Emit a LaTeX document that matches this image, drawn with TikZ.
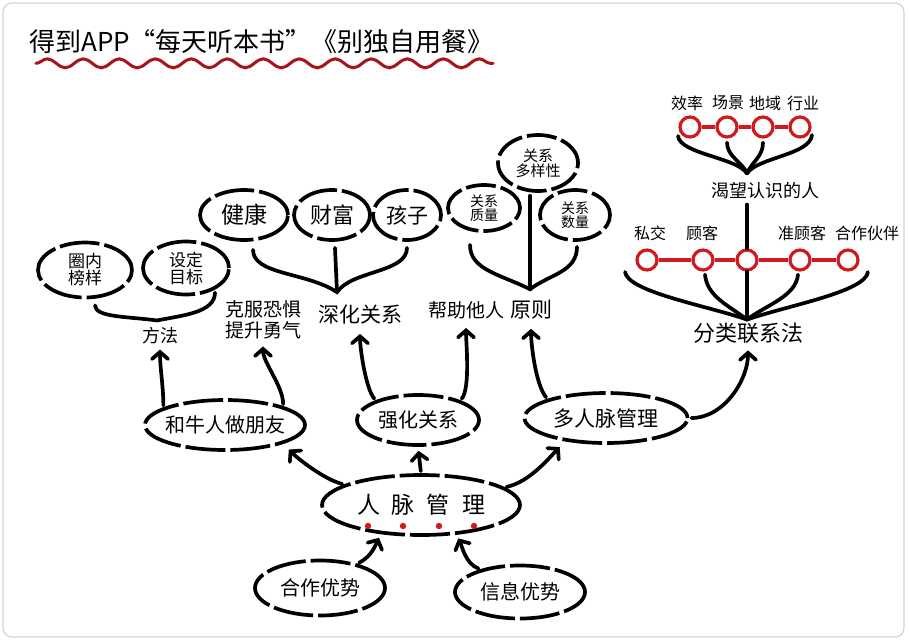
\documentclass[tikz,border=0pt]{standalone}
\usepackage{fontspec}
\setmainfont{Noto Sans CJK SC}
\usetikzlibrary{arrows.meta,decorations.pathmorphing,calc,shapes.geometric}
\definecolor{inkred}{HTML}{D01A1E}
\definecolor{wavered}{HTML}{A8141A}
\definecolor{framegray}{HTML}{D4D4D4}
\newcommand{\fs}[1]{\fontsize{#1}{#1}\selectfont}
\begin{document}
\begin{tikzpicture}[x=1pt,y=-1pt,
  bub/.style={ellipse, draw, line width=3.7pt, dash pattern=on 40pt off 5pt,
    inner xsep=-14pt, inner ysep=-8pt, align=center},
  lbl/.style={inner sep=1pt, align=center},
  arr/.style={line width=3.7pt, line cap=round,
    -{Straight Barb[length=7pt,width=16pt,line cap=round]}, shorten >=4pt, shorten <=2pt},
  brace/.style={line width=3.7pt, line cap=round},
  rc/.style={circle, draw=inkred, line width=3.2pt, minimum size=20pt, inner sep=0pt},
  rlink/.style={draw=inkred, line width=3.2pt},
  tag/.style={inner sep=1pt, font=\fs{16}}
]
\useasboundingbox (0,0) rectangle (909,643);
% sheet with a light frame
\draw[framegray, fill=white, line width=1.2pt, rounded corners=9pt] (3,3) rectangle (904,637);

% title and its wavy underline
\node[lbl, anchor=west, font=\fs{26}] (title) at (28,42) {得到APP“每天听本书”《别独自用餐》};
\draw[wavered, line width=3pt, line cap=round,
  decorate, decoration={snake, segment length=36pt, amplitude=4.5pt}]
  ($(title.south west)+(8,8)$) -- ($(title.south east)+(-2,8)$);

% core node and its inputs
\node[bub, minimum width=198, minimum height=60, font=\fs{23}] (network) at (421,505)
  {人\hspace{12pt}脉\hspace{12pt}管\hspace{12pt}理};
\foreach \dx in {-53,-18,18,53}
  \fill[inkred] ($(network.center)+(\dx,21)$) circle (3.2pt);
\node[bub, minimum width=130, minimum height=55, font=\fs{20}] (coop) at (320,588) {合作优势};
\node[bub, minimum width=130, minimum height=53, font=\fs{20}] (info) at (520,592) {信息优势};

% second level
\node[bub, minimum width=160, minimum height=50, font=\fs{20}] (friend) at (225,425) {和牛人做朋友};
\node[bub, minimum width=122, minimum height=50, font=\fs{20}] (strengthen) at (418,420) {强化关系};
\node[bub, minimum width=163, minimum height=50, font=\fs{21}] (multi) at (606,418) {多人脉管理};

% third level labels
\node[lbl, font=\fs{18}] (ff) at (160,336) {方法};
\node[lbl, font=\fs{19}, align=center] (kf) at (263,320) {克服恐惧\\[2pt]提升勇气};
\node[lbl, font=\fs{21}] (deepen) at (360,315) {深化关系};
\node[lbl, font=\fs{19}] (help) at (466,310) {帮助他人};
\node[lbl, font=\fs{21}] (rules) at (531,310) {原则};
\node[lbl, font=\fs{22}] (classify) at (748,333) {分类联系法};

% bubbles above the labels
\node[bub, minimum width=94, minimum height=55, font=\fs{17}] (qn) at (85,270) {圈内\\榜样};
\node[bub, minimum width=86, minimum height=53, font=\fs{17}] (sd) at (186,268) {设定\\目标};
\node[bub, minimum width=88, minimum height=50, font=\fs{23}] (health) at (244,215) {健康};
\node[bub, minimum width=76, minimum height=50, font=\fs{22}] (wealth) at (332,215) {财富};
\node[bub, minimum width=68, minimum height=50, font=\fs{21}] (kids) at (407,215) {孩子};
\node[bub, minimum width=72, minimum height=46, font=\fs{14}, dash pattern=on 30pt off 5pt] (quality) at (484,208) {关系\\质量};
\node[bub, minimum width=80, minimum height=56, font=\fs{15}, dash pattern=on 30pt off 5pt] (diversity) at (538,163) {关系\\多样性};
\node[bub, minimum width=70, minimum height=50, font=\fs{14}, dash pattern=on 30pt off 5pt] (quantity) at (575,215) {关系\\数量};

% classification chains
\node[lbl, font=\fs{18}] (desire) at (765,191) {渴望认识的人};
\foreach \i/\x in {1/647,2/703,3/747,4/800,5/848}
  \node[rc] (c\i) at (\x,260) {};
\foreach \i/\x in {1/690,2/727,3/763,4/800}
  \node[rc] (e\i) at (\x,127) {};
\draw[rlink] (c1) -- (c2) (c2) -- (c3) (c3) -- (c4) (c4) -- (c5);
\draw[rlink] (e1) -- (e2) (e2) -- (e3) (e3) -- (e4);
\node[tag] (t1) at (650,233) {私交};
\node[tag] (t2) at (702,233) {顾客};
\node[tag] (t4) at (802,233) {准顾客};
\node[tag] (t5) at (867,233) {合作伙伴};
\node[tag] (s1) at (687,103) {效率};
\node[tag] (s2) at (728,103) {场景};
\node[tag] (s3) at (765,103) {地域};
\node[tag] (s4) at (803,103) {行业};

% arrows from the core outwards
\draw[arr] (coop.33) .. controls +(15,-8) and +(-5,10) .. (network.-144);
\draw[arr] (info.150) .. controls +(-15,-5) and +(5,10) .. (network.-40);
\draw[arr, shorten >=8pt] (network.165) .. controls +(-20,-5) and +(15,15) .. (friend.-18);
\draw[arr] (network.north) -- (strengthen.south);
\draw[arr, shorten >=8pt] (network.12) .. controls +(25,-5) and +(-15,15) .. (multi.-150);
\draw[arr] (friend.164) .. controls +(0,-20) and +(0,22) .. (ff.south);
\draw[arr, shorten >=6pt] (friend.18) .. controls +(0,-20) and +(0,22) .. (kf.south);
\draw[arr, shorten >=8pt] (strengthen.155) .. controls +(-10,-12) and +(0,22) .. (deepen.south);
\draw[arr, shorten >=8pt] (strengthen.25) .. controls +(10,-12) and +(0,22) .. (help.south);
\draw[arr, shorten >=8pt] (multi.162) .. controls +(-12,-15) and +(0,22) .. (rules.south);
\draw[arr, shorten >=6pt] (multi.east) .. controls +(35,0) and +(0,35) .. (classify.south);

% braces that gather bubbles into labels
\coordinate (b1) at ($(ff.north)+(-3,-6)$);
\draw[brace] ($(qn.south)+(10,6)$) .. controls +(0,12) and +(-30,-4) .. (b1)
  .. controls +(25,-5) and +(0,20) .. ($(sd.-40)+(2,2)$);
\coordinate (b2) at ($(deepen.north)+(-23,-12)$);
\draw[brace] ($(health.south)+(9,8)$) .. controls +(0,25) and +(-30,-20) .. (b2)
  .. controls +(15,-22) and +(0,25) .. ($(kids.south)+(0,6)$);
\draw[brace] ($(wealth.south)+(3,6)$) -- (b2);
\coordinate (b3) at ($(rules.north)+(-1,-10)$);
\draw[brace] ($(quality.south)+(-14,12)$) .. controls +(0,25) and +(-30,-15) .. (b3)
  .. controls +(20,-15) and +(0,25) .. ($(quantity.south)+(2,5)$);
\draw[brace] ($(diversity.south)+(-8,3)$) -- (b3);

% braces in the classification chains
\coordinate (p1) at ($(c3 |- desire.north)+(0,-8)$);
\draw[brace] ($(e1)+(-12,9)$) .. controls +(2,18) and +(-10,-16) .. (p1);
\draw[brace] ($(e2.south)+(0,4)$) .. controls +(0,14) and +(-5,-12) .. (p1);
\draw[brace] ($(e3.south)+(0,4)$) .. controls +(0,14) and +(5,-12) .. (p1);
\draw[brace] ($(e4)+(12,8)$) .. controls +(-2,20) and +(10,-16) .. (p1);
\draw[brace] ($(c3 |- desire.south)+(0,4)$) -- (c3.north);
\coordinate (p2) at ($(c3 |- classify.north)+(0,-2)$);
\draw[brace] ($(c1)+(-22,12)$) .. controls +(3,20) and +(-40,-14) .. (p2);
\draw[brace] ($(c2.south)+(2,3)$) .. controls +(2,22) and +(-18,-14) .. (p2);
\draw[brace] (c3.south) -- (p2);
\draw[brace] ($(c4.south)+(-2,3)$) .. controls +(-2,22) and +(18,-14) .. (p2);
\draw[brace] ($(c5)+(20,12)$) .. controls +(-3,20) and +(40,-14) .. (p2);
\end{tikzpicture}
\end{document}
